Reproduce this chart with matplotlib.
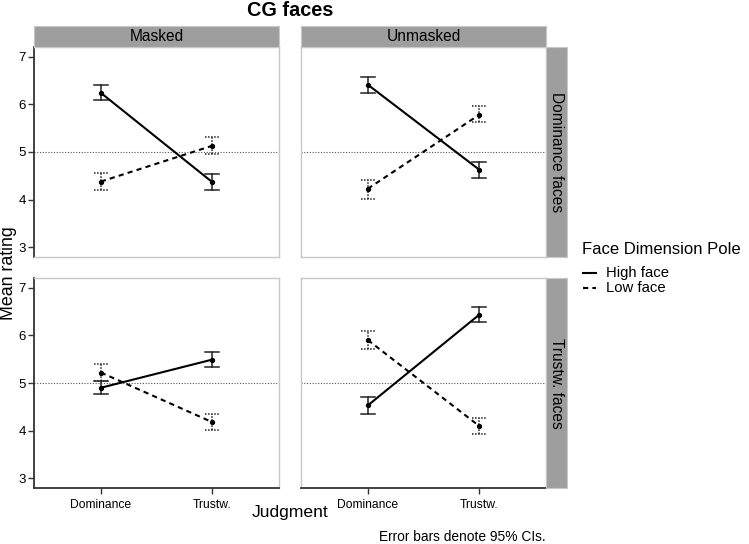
import matplotlib.pyplot as plt

plt.rcParams['font.family'] = ['Liberation Sans', 'DejaVu Sans']

W, H = 749, 544

judgments = ['Dominance', 'Trustw.']
masks = ['Masked', 'Unmasked']
face_types = ['Dominance faces', 'Trustw. faces']

# mean ratings, [face_type][mask] -> values at (Dominance, Trustw.)
high_mean = {
    ('Dominance faces', 'Masked'): [6.24, 4.37],
    ('Dominance faces', 'Unmasked'): [6.41, 4.63],
    ('Trustw. faces', 'Masked'): [4.90, 5.49],
    ('Trustw. faces', 'Unmasked'): [4.53, 6.43],
}
high_lo = {
    ('Dominance faces', 'Masked'): [6.08, 4.20],
    ('Dominance faces', 'Unmasked'): [6.24, 4.46],
    ('Trustw. faces', 'Masked'): [4.76, 5.33],
    ('Trustw. faces', 'Unmasked'): [4.36, 6.27],
}
high_hi = {
    ('Dominance faces', 'Masked'): [6.41, 4.53],
    ('Dominance faces', 'Unmasked'): [6.57, 4.80],
    ('Trustw. faces', 'Masked'): [5.04, 5.66],
    ('Trustw. faces', 'Unmasked'): [4.71, 6.59],
}
low_mean = {
    ('Dominance faces', 'Masked'): [4.38, 5.13],
    ('Dominance faces', 'Unmasked'): [4.23, 5.78],
    ('Trustw. faces', 'Masked'): [5.22, 4.18],
    ('Trustw. faces', 'Unmasked'): [5.90, 4.10],
}
low_lo = {
    ('Dominance faces', 'Masked'): [4.20, 4.95],
    ('Dominance faces', 'Unmasked'): [4.02, 5.62],
    ('Trustw. faces', 'Masked'): [5.05, 4.01],
    ('Trustw. faces', 'Unmasked'): [5.71, 3.94],
}
low_hi = {
    ('Dominance faces', 'Masked'): [4.55, 5.32],
    ('Dominance faces', 'Unmasked'): [4.41, 5.96],
    ('Trustw. faces', 'Masked'): [5.40, 4.36],
    ('Trustw. faces', 'Unmasked'): [6.09, 4.27],
}
y_ticks = [3, 4, 5, 6, 7]


def fig_rect(x0, y0, x1, y1):
    return [x0 / W, 1 - y1 / H, (x1 - x0) / W, (y1 - y0) / H]


fig = plt.figure(figsize=(W / 100, H / 100), dpi=100)

col_x = [(34, 279), (301, 546)]
row_y = [(47, 257), (278, 488)]
strip_gray = '#9e9e9e'
border_gray = '#c8c8c8'
dark = '#333333'
cap = 0.0625

for r, ft in enumerate(face_types):
    for c, m in enumerate(masks):
        x0, x1 = col_x[c]
        y0, y1 = row_y[r]
        ax = fig.add_axes(fig_rect(x0, y0, x1, y1))
        ax.set_xlim(0.4, 2.6)
        ax.set_ylim(2.8, 7.2)
        xs = [1, 2]
        ax.axhline(5, color='#555555', lw=0.8, ls=(0, (1, 1.5)), zorder=1)

        key = (ft, m)
        # high face
        ax.plot(xs, high_mean[key], color='black', lw=1.5, zorder=3)
        ax.plot(xs, high_mean[key], 'o', color='black', ms=2.8, zorder=4)
        for x, lo, hi in zip(xs, high_lo[key], high_hi[key]):
            ax.plot([x, x], [lo, hi], color='#222222', lw=1.1, zorder=2)
            ax.plot([x - cap, x + cap], [lo, lo], color='#222222', lw=1.1, zorder=2)
            ax.plot([x - cap, x + cap], [hi, hi], color='#222222', lw=1.1, zorder=2)
        # low face
        ax.plot(xs, low_mean[key], color='black', lw=1.5, ls=(0, (2.5, 2)), zorder=3)
        ax.plot(xs, low_mean[key], 'o', color='black', ms=2.8, zorder=4)
        for x, lo, hi in zip(xs, low_lo[key], low_hi[key]):
            ax.plot([x, x], [lo, hi], color='#222222', lw=1.1, ls=(0, (1, 1)), zorder=2)
            ax.plot([x - cap, x + cap], [lo, lo], color='#222222', lw=1.1, ls=(0, (1, 1)), zorder=2)
            ax.plot([x - cap, x + cap], [hi, hi], color='#222222', lw=1.1, ls=(0, (1, 1)), zorder=2)

        for s in ax.spines.values():
            s.set_color(border_gray)
            s.set_linewidth(1.0)

        if c == 0:
            ax.set_yticks(y_ticks)
            ax.spines['left'].set_color(dark)
            ax.spines['left'].set_linewidth(1.3)
            ax.tick_params(axis='y', length=4, width=1, color=dark, labelsize=9.5, pad=2)
        else:
            ax.set_yticks([])
        if r == 1:
            ax.set_xticks(xs)
            ax.set_xticklabels(judgments)
            ax.spines['bottom'].set_color(dark)
            ax.spines['bottom'].set_linewidth(1.3)
            ax.tick_params(axis='x', length=4, width=1, color=dark, labelsize=8.7, pad=4)
        else:
            ax.set_xticks([])

        if r == 0:
            sax = fig.add_axes(fig_rect(x0, 26, x1, 47))
            sax.set_facecolor(strip_gray)
            sax.set_xticks([])
            sax.set_yticks([])
            for s in sax.spines.values():
                s.set_color(border_gray)
            sax.text(0.5, 0.5, m, ha='center', va='center', fontsize=11.2,
                     transform=sax.transAxes)
        if c == 1:
            sax = fig.add_axes(fig_rect(546, y0, 567, y1))
            sax.set_facecolor(strip_gray)
            sax.set_xticks([])
            sax.set_yticks([])
            for s in sax.spines.values():
                s.set_color(border_gray)
            sax.text(0.5, 0.5, ft, ha='center', va='center', fontsize=11.2,
                     rotation=-90, transform=sax.transAxes)

fig.text(290 / W, 1 - 11 / H, 'CG faces', ha='center', va='center',
         fontsize=14.3, fontweight='bold')
fig.text(9 / W, 1 - 273 / H, 'Mean rating', ha='center', va='center',
         fontsize=12.8, rotation=90)
fig.text(290 / W, 1 - 512 / H, 'Judgment', ha='center', va='center', fontsize=12.6)
fig.text(546 / W, 1 - 537 / H, 'Error bars denote 95% CIs.', ha='right',
         va='center', fontsize=9.9)

# legend
fig.text(582 / W, 1 - 250 / H, 'Face Dimension Pole', ha='left', va='center',
         fontsize=12)
fig.add_artist(plt.Line2D([583 / W, 596 / W], [1 - 273 / H] * 2, color='black', lw=1.5))
fig.add_artist(plt.Line2D([583 / W, 596 / W], [1 - 288 / H] * 2, color='black', lw=1.5,
                          ls=(0, (2.5, 2))))
fig.text(606 / W, 1 - 273 / H, 'High face', ha='left', va='center', fontsize=10.7)
fig.text(606 / W, 1 - 288 / H, 'Low face', ha='left', va='center', fontsize=10.7)

fig.savefig('out.png', dpi=100)
